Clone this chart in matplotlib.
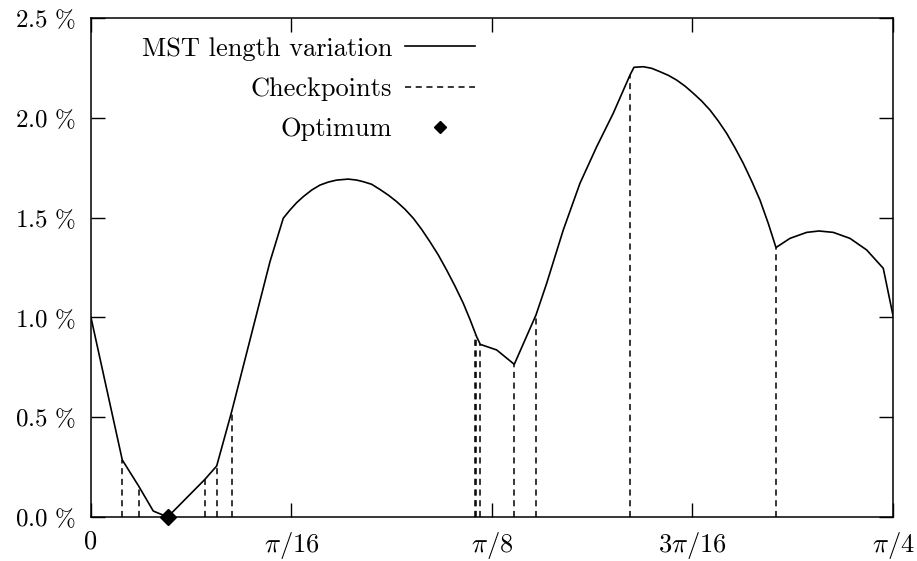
import numpy as np
import matplotlib
matplotlib.use("Agg")
import matplotlib.pyplot as plt

plt.rcParams['font.family'] = 'serif'
plt.rcParams['font.serif'] = ['cmr10']
plt.rcParams['mathtext.fontset'] = 'cm'
plt.rcParams['axes.unicode_minus'] = False

# MST length variation (%) against rotation angle (rad)
angle = [0.0, 0.03065, 0.04671, 0.06101, 0.07511, 0.11164, 0.12310, 0.13779,
         0.17529, 0.18832, 0.19488, 0.20144, 0.20791, 0.21613, 0.22426, 0.23239,
         0.24061, 0.25198, 0.26020, 0.26666, 0.27489, 0.28302, 0.29114, 0.29937,
         0.30750, 0.31563, 0.32385, 0.33198, 0.34012, 0.34834, 0.35647, 0.36459,
         0.37115, 0.37771, 0.38124,
         0.39730, 0.41454, 0.43579, 0.44627, 0.46252, 0.47888, 0.49523, 0.51149,
         0.52785, 0.53175, 0.54086, 0.54909, 0.55722, 0.56535, 0.57357, 0.58170,
         0.58983, 0.59806, 0.60618, 0.61432, 0.62254, 0.63067, 0.63880, 0.64702,
         0.65515, 0.66328, 0.67082,
         0.68452, 0.70088, 0.71293, 0.72694, 0.74329, 0.75964, 0.77590, 0.78540]
variation = [1.00, 0.286, 0.155, 0.030, 0.0, 0.189, 0.2555, 0.528,
             1.279, 1.497, 1.538, 1.575, 1.605, 1.638, 1.663, 1.678,
             1.688, 1.693, 1.688, 1.680, 1.667, 1.641, 1.613, 1.580,
             1.542, 1.497, 1.441, 1.379, 1.313, 1.237, 1.157, 1.071,
             0.990, 0.903, 0.865,
             0.837, 0.765, 1.012, 1.171, 1.438, 1.672, 1.855, 2.023,
             2.214, 2.253, 2.256, 2.248, 2.231, 2.213, 2.189, 2.159,
             2.123, 2.084, 2.039, 1.984, 1.922, 1.850, 1.772, 1.683,
             1.588, 1.471, 1.350,
             1.396, 1.426, 1.433, 1.426, 1.396, 1.338, 1.246, 1.01]

check_x = [0.03065, 0.04671, 0.11164, 0.12310, 0.13779, 0.37605, 0.37732,
           0.38124, 0.41454, 0.43579, 0.52785, 0.67082]
check_y = [0.286, 0.155, 0.189, 0.2555, 0.528, 0.91, 0.90,
           0.865, 0.765, 1.012, 2.214, 1.350]

opt_x = [0.07511]
opt_y = [0.0]

xticks = [0, np.pi / 16, np.pi / 8, 3 * np.pi / 16, np.pi / 4]
xlabels = ['0', r'$\pi/16$', r'$\pi/8$', r'$3\pi/16$', r'$\pi/4$']
yticks = [0.0, 0.5, 1.0, 1.5, 2.0, 2.5]
ylabels = [r'$%.1f\ \%%$' % v for v in yticks]

fig = plt.figure(figsize=(9.17, 5.61), dpi=100)
ax = fig.add_axes([0.0992, 0.0784, 0.8746, 0.8895])

ax.plot(angle, variation, color='black', lw=1.2, label='MST length variation')
ax.vlines(check_x, 0, check_y, colors='black', linestyles=(0, (4, 3)), lw=1.1,
          label='Checkpoints')
ax.plot(opt_x, opt_y, 'D', color='black', ms=8, clip_on=False, zorder=5)
ax.plot([], [], 'D', color='black', ms=6, label='Optimum')

ax.set_xlim(0, np.pi / 4)
ax.set_ylim(0, 2.5)
ax.set_xticks(xticks)
ax.set_xticklabels(xlabels, fontsize=19)
ax.set_yticks(yticks)
ax.set_yticklabels(ylabels, fontsize=18)
ax.tick_params(direction='in', length=10, width=1, top=True, right=True)
ax.tick_params(axis='y', pad=11)
ax.tick_params(axis='x', pad=9)
for s in ax.spines.values():
    s.set_linewidth(1.1)

ax.legend(loc='upper right', bbox_to_anchor=(0.479, 0.962), frameon=False,
          markerfirst=False, fontsize=19, handlelength=2.65, handletextpad=0.5,
          labelspacing=0.62, borderpad=0, borderaxespad=0)

fig.savefig('out.png', dpi=100)
